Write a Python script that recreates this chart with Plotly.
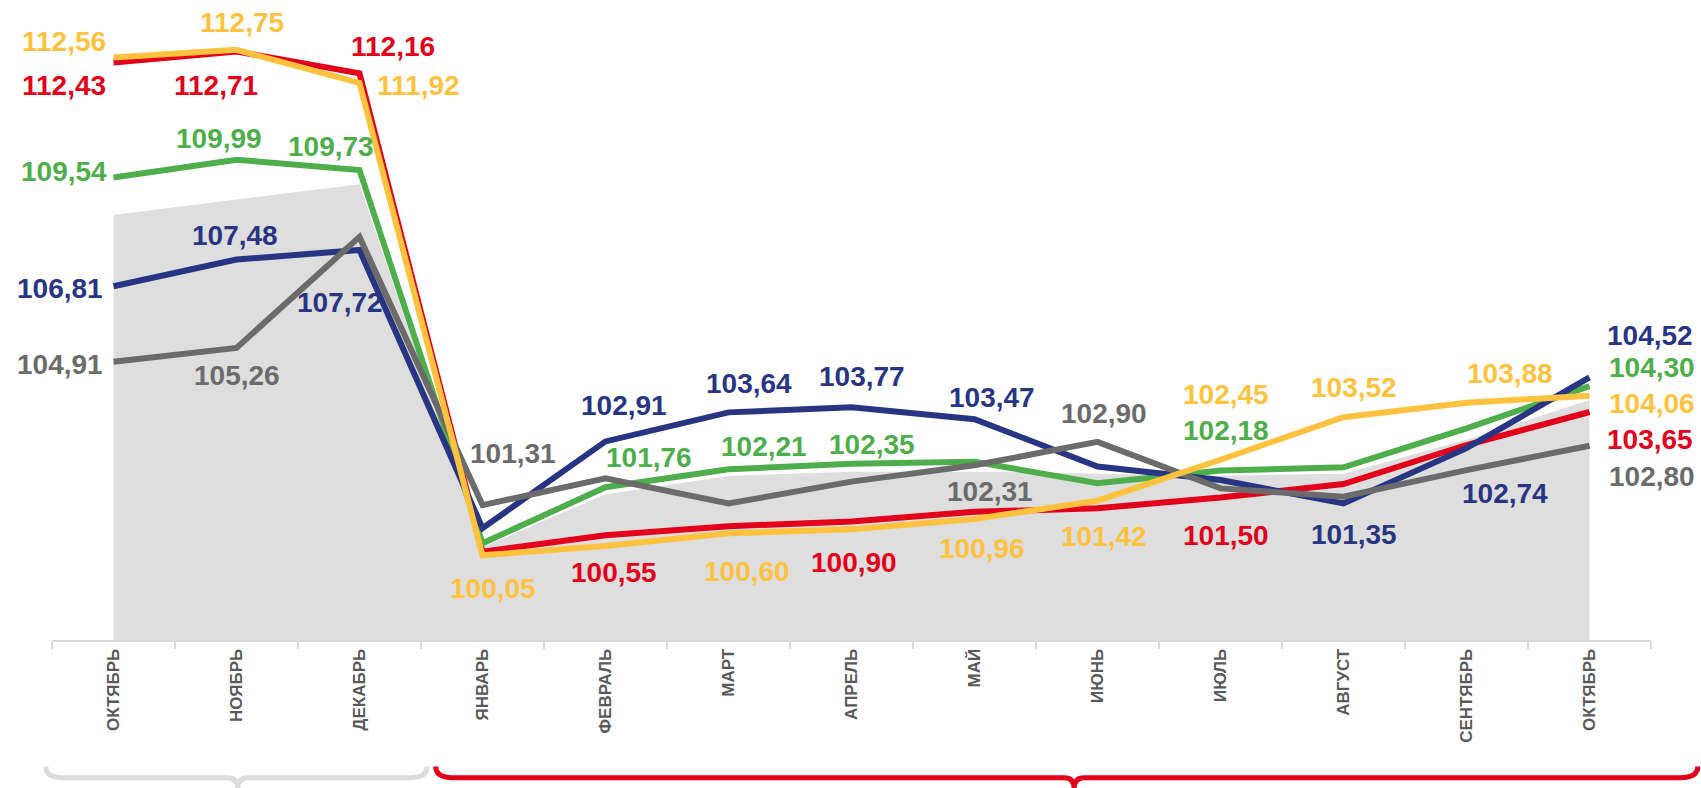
import plotly.graph_objects as go

months = ["ОКТЯБРЬ", "НОЯБРЬ", "ДЕКАБРЬ", "ЯНВАРЬ", "ФЕВРАЛЬ", "МАРТ", "АПРЕЛЬ",
          "МАЙ", "ИЮНЬ", "ИЮЛЬ", "АВГУСТ", "СЕНТЯБРЬ", "ОКТЯБРЬ"]

red = [112.43, 112.71, 112.16, 100.14, 100.55, 100.78, 100.90, 101.14, 101.23, 101.50, 101.84, 102.82, 103.65]
yellow = [112.56, 112.75, 111.92, 100.05, 100.28, 100.60, 100.70, 100.96, 101.42, 102.45, 103.52, 103.88, 104.06]
green = [109.54, 109.99, 109.73, 100.35, 101.76, 102.21, 102.35, 102.40, 101.86, 102.18, 102.26, 103.24, 104.30]
navy = [106.81, 107.48, 107.72, 100.73, 102.91, 103.64, 103.77, 103.47, 102.28, 101.94, 101.35, 102.74, 104.52]
gray = [104.91, 105.26, 108.05, 101.31, 101.98, 101.35, 101.90, 102.31, 102.90, 101.73, 101.52, 102.19, 102.80]
area = [108.60, 108.99, 109.37, 100.25, 101.58, 102.04, 102.15, 102.15, 102.10, 102.05, 102.10, 102.95, 103.95]

idx = list(range(len(months)))

COL = {"red": "#E2001A", "yellow": "#FFC23F", "green": "#4EAE4C", "navy": "#283582", "gray": "#6B6B6B"}
series = {"red": red, "yellow": yellow, "green": green, "navy": navy, "gray": gray}
draw_order = ["red", "green", "navy", "gray", "yellow"]

# label placement: index -> (dx px, dy px; positive dy = downward)
label_pos = {
    "red": {0: (-50, 23), 1: (-21, 34), 2: (33, -27), 4: (8, 37), 6: (2, 41), 9: (5, 38), 12: (60, 28)},
    "yellow": {0: (-50, -16), 1: (5, -27), 2: (59, 3), 3: (10, 33), 5: (18, 38), 7: (7, 29),
               8: (6, 36), 9: (5, -65), 10: (10, -30), 11: (43, -29), 12: (62, 8)},
    "green": {0: (-50, -6), 1: (-18, -21), 2: (-29, -24), 4: (43, -30), 5: (35, -23), 6: (20, -19),
              9: (5, -40), 12: (62, -19)},
    "navy": {0: (-54, 2), 1: (-2, -24), 2: (-20, 52), 4: (18, -36), 5: (20, -29), 6: (10, -31),
             7: (17, -22), 10: (10, 31), 11: (38, 45), 12: (60, -42)},
    "gray": {0: (-54, 3), 1: (0, 28), 3: (30, -52), 7: (15, 26), 8: (6, -28), 12: (62, 31)},
}

fig = go.Figure()
fig.add_trace(go.Scatter(x=idx, y=area, mode="none", fill="tozeroy", fillcolor="#DEDEDE",
                         hoverinfo="skip", showlegend=False))
for name in draw_order:
    fig.add_trace(go.Scatter(x=idx, y=series[name], mode="lines",
                             line=dict(color=COL[name], width=6), showlegend=False))

def fmt(v):
    return f"{v:.2f}".replace(".", ",")

annotations = []
for name, pos in label_pos.items():
    vals = series[name]
    for i, (dx, dy) in pos.items():
        annotations.append(dict(x=i, y=vals[i], xref="x", yref="y", text=fmt(vals[i]),
                                showarrow=False, xshift=dx, yshift=-dy,
                                xanchor="center", yanchor="middle",
                                font=dict(family="Liberation Sans", size=28, color=COL[name], weight="bold")))

n = len(months)
def cx(c):
    return (c + 0.5) / n

def brace(x0, xc, x1, color):
    ytop, yline, ytip = -0.204, -0.222, -0.240
    r = 0.14
    rt = 0.08
    path = (f"M {cx(x0)},{ytop} Q {cx(x0)},{yline} {cx(x0 + r)},{yline} "
            f"L {cx(xc - rt)},{yline} Q {cx(xc)},{yline} {cx(xc)},{ytip} "
            f"Q {cx(xc)},{yline} {cx(xc + rt)},{yline} "
            f"L {cx(x1 - r)},{yline} Q {cx(x1)},{yline} {cx(x1)},{ytop}")
    return dict(type="path", xref="paper", yref="paper", path=path,
                line=dict(color=color, width=5))

shapes = [brace(-0.55, 1.01, 2.55, "#DCDCDC"), brace(2.62, 7.81, 12.88, "#E2001A")]

fig.update_layout(
    width=1701, height=788,
    margin=dict(l=52, r=50, t=20, b=148),
    plot_bgcolor="white", paper_bgcolor="white",
    annotations=annotations, shapes=shapes,
    xaxis=dict(range=[-0.5, 12.5], tickmode="array", tickvals=idx, ticktext=months,
               tickangle=-90, ticks="", showgrid=False, zeroline=False,
               showline=True, linecolor="#D9D9D9", linewidth=2,
               tickfont=dict(family="Liberation Sans", size=17, color="#595959", weight="bold"),
               minor=dict(ticks="outside", tick0=-0.5, dtick=1, ticklen=7, tickcolor="#D9D9D9", tickwidth=2),
               fixedrange=True),
    yaxis=dict(range=[97.92, 113.5], visible=False, fixedrange=True),
)

fig.write_html("out.html", config={"displayModeBar": False},
               post_script="document.body.style.margin='0';document.body.style.overflow='hidden';")
